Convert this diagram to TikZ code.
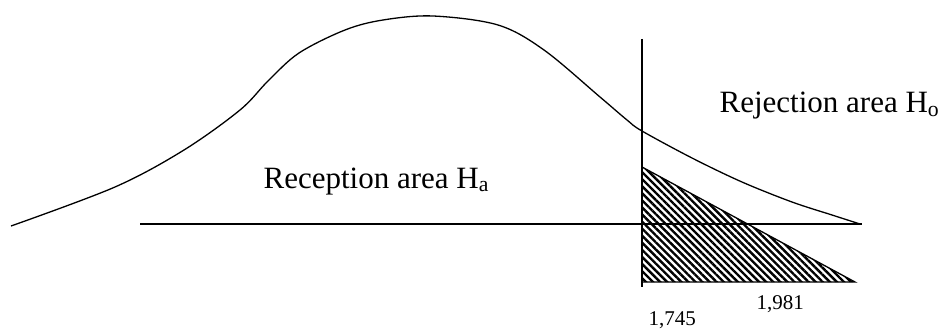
\documentclass[tikz,border=0pt]{standalone}
\usepackage{fontspec}
\setmainfont{Liberation Serif}
\usepackage{tikz}
\usetikzlibrary{patterns.meta,positioning}

\begin{document}
\begin{tikzpicture}[x=1pt,y=-1pt,line width=1.3pt,
  bigtext/.style={anchor=base west,inner sep=0pt,font=\fontsize{31}{36}\selectfont},
  numtext/.style={anchor=base west,inner sep=0pt,font=\fontsize{21}{24}\selectfont}]
\useasboundingbox (0,0) rectangle (946,329);
% axis and critical value
\coordinate (axisL) at (140,224);
\coordinate (axisR) at (862,224);
\coordinate (critT) at (642,39);
\coordinate (critB) at (642,287);
\coordinate (hatchT) at (642,167);
\coordinate (hatchR) at (855,282);
\coordinate (hatchB) at (642,282);
% rejection region
\fill[pattern={Lines[angle=-45,distance=5pt,line width=2.4pt]}] (hatchT) -- (hatchR) -- (hatchB) -- cycle;
\draw (hatchT) -- (hatchR) -- (hatchB);
\draw (axisL) -- (axisR);
\draw (critT) -- (critB);
% density curve
\draw plot[smooth,tension=0.55] coordinates {(11,226) (115,187) (184,150) (240,110) (268,81)
  (299,53) (345,30) (383,20) (433,16) (498,25) (544,50) (600,97) (627,120) (642,131)
  (692,158) (742,182) (792,202) (832,215) (860,224)};
% labels
\node[bigtext] (reject) at (719,113) {Rejection area H\textsubscript{o}};
\node[bigtext] (accept) at (263,188) {Reception area H\textsubscript{a}};
\node[numtext] (critA) at (648,325) {1,745};
\node[numtext] (critC) at (756,309) {1,981};
\end{tikzpicture}
\end{document}
